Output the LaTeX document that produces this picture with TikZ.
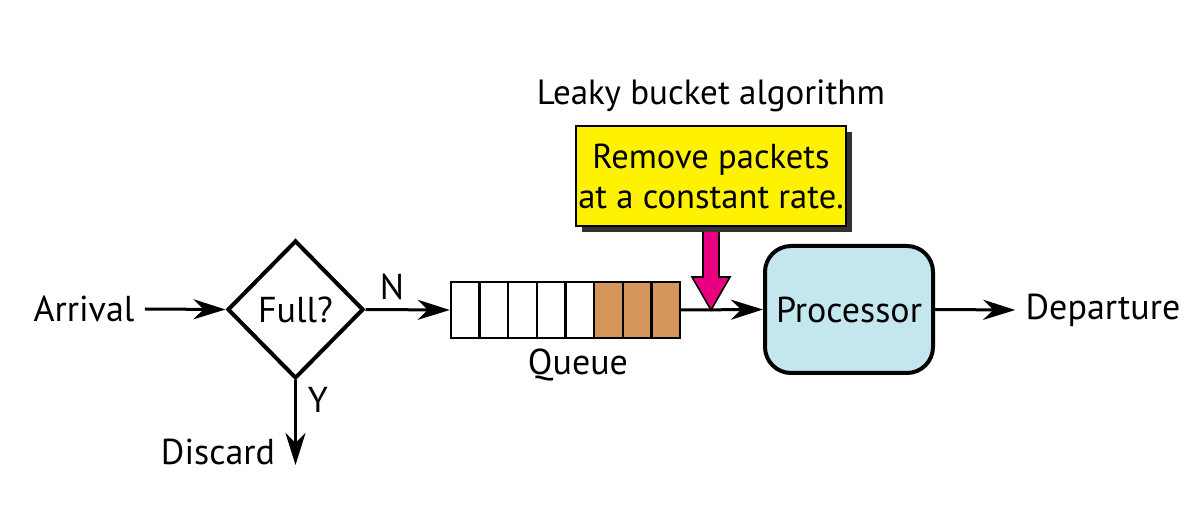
\documentclass[tikz,border=0pt]{standalone}
\usepackage{fontspec}
\setmainfont{PT Sans}
\usetikzlibrary{shapes.geometric,arrows.meta,shadows,calc}
\definecolor{brownq}{RGB}{212,150,90}
\definecolor{procblue}{RGB}{196,230,238}
\definecolor{pinkarr}{RGB}{232,0,128}
\definecolor{shadowgray}{RGB}{50,50,50}
\begin{document}
\begin{tikzpicture}[x=0.5pt,y=-0.5pt,
  lbl/.style={font=\fontsize{18}{20}\selectfont, inner sep=0pt},
  conn/.style={line width=1.5pt,-{Stealth[length=16pt,width=10pt,inset=5pt]}},
  decision/.style={diamond,draw,line width=2pt,minimum width=68pt,minimum height=69pt,inner sep=0pt,font=\fontsize{18}{20}\selectfont},
  queuebox/.style={rectangle,draw,line width=1.2pt,minimum width=114.5pt,minimum height=28pt,inner sep=0pt},
  procbox/.style={rectangle,rounded corners=13pt,draw,line width=2pt,fill=procblue,minimum width=84pt,minimum height=63.5pt,font=\fontsize{18}{20}\selectfont},
  notebox/.style={rectangle,draw,line width=1pt,fill=yellow,minimum width=134pt,minimum height=50pt,inner sep=1pt,align=center,font=\fontsize{17.3}{20}\selectfont,
     drop shadow={shadow xshift=3pt,shadow yshift=-3pt,opacity=1,fill=shadowgray}}
]
\useasboundingbox (0,0) rectangle (1201,523);
% nodes
\node[lbl] (arrival) at (84,309) {Arrival};
\node[decision] (full) at (295.5,309.5) {Full?};
\node[lbl] (discard) at (218,452) {Discard};
\coordinate (discend) at (295.5,465);
\node[lbl] (nlab) at (392,287) {N};
\node[lbl] (ylab) at (318,400) {Y};
% queue
\node[queuebox] (queue) at (565.5,310) {};
\fill[brownq] (594.1,282) rectangle (680,338);
\foreach \i in {1,...,7} {
  \draw[line width=1.2pt] ($(451,282)+(\i*28.625,0)$) -- ($(451,338)+(\i*28.625,0)$);
}
\draw[line width=1.2pt] (451,282) rectangle (680,338);
\node[lbl] (qlab) at (578,365) {Queue};
% processor
\node[procbox] (proc) at (849,309.5) {Processor};
\node[lbl] (depart) at (1103,310) {Departure};
% title and note
\node[lbl,font=\fontsize{17.5}{20}\selectfont] (title) at (711,96) {Leaky bucket algorithm};
\node[notebox] (note) at (711,176) {Remove packets\\at a constant rate.};
\coordinate (tap) at (711,310);
% connectors
\draw[conn] ($(arrival.east)+(10,0)$) -- (full.west);
\draw[conn] (full.east) -- (queue.west);
\draw[conn] (full.south) -- (discend);
\draw[conn] (queue.east) -- (proc.west);
\draw[conn] (proc.east) -- ($(depart.west)+(-10,0)$);
% pink arrow
\draw[fill=pinkarr,line width=0.8pt,line join=miter]
  (703,232) -- (703,277) -- (692,277) -- (tap) -- (730,277) -- (719,277) -- (719,232);
\end{tikzpicture}
\end{document}
